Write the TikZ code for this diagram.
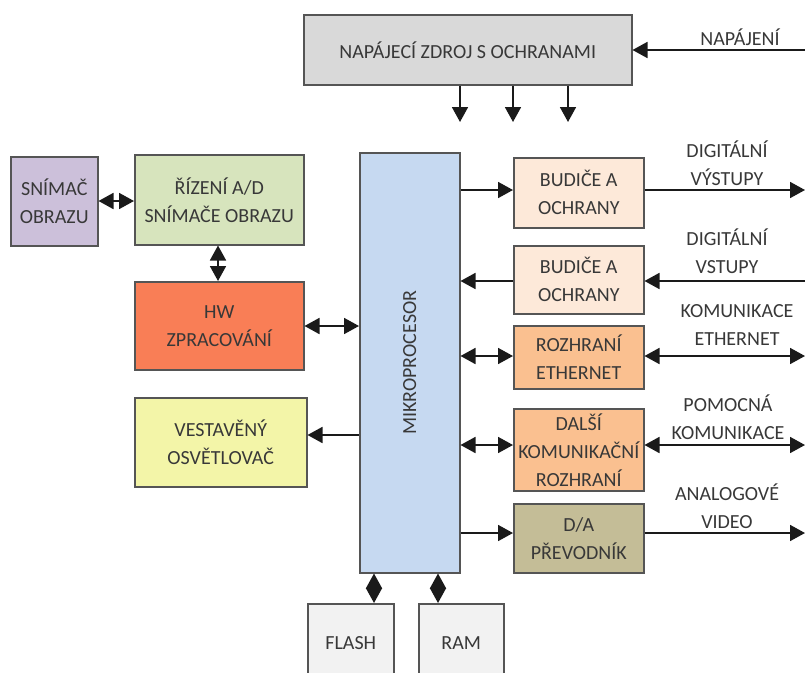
\documentclass[tikz,border=0pt]{standalone}
\usepackage{fontspec}
\setmainfont{Carlito}
\usetikzlibrary{arrows.meta}
\definecolor{bordc}{HTML}{555555}
\definecolor{txt}{HTML}{383838}
\definecolor{cpower}{HTML}{D9D9D9}
\definecolor{csnim}{HTML}{CCC0DA}
\definecolor{criz}{HTML}{D7E4BD}
\definecolor{chw}{HTML}{F97E56}
\definecolor{cvest}{HTML}{F3F5A8}
\definecolor{cmicro}{HTML}{C6D9F1}
\definecolor{cbud}{HTML}{FDE9D9}
\definecolor{ceth}{HTML}{FAC090}
\definecolor{cda}{HTML}{C4BD97}
\definecolor{cmem}{HTML}{F2F2F2}
\definecolor{linec}{HTML}{1A1A1A}
\begin{document}
\begin{tikzpicture}[x=1pt,y=-1pt,
  box/.style={draw=bordc, line width=1.5pt, text=txt, align=center, inner sep=0pt, anchor=north west, font=\fontsize{20}{28}\selectfont},
  lbl/.style={text=txt, align=center, inner sep=0pt, font=\fontsize{20}{28}\selectfont},
  arr/.style={draw=linec, line width=1.8pt, -{Triangle[length=15pt,width=16pt]}},
  darr/.style={draw=linec, line width=1.8pt, {Triangle[length=15pt,width=16pt]}-{Triangle[length=15pt,width=16pt]}},
  ln/.style={draw=linec, line width=1.8pt}]
\useasboundingbox (0,0) rectangle (805,672);
\clip (0,0) rectangle (805,672);
% boxes
\node[box, fill=cpower, minimum width=328pt, minimum height=70pt] (power) at (303,14) {NAPÁJECÍ ZDROJ S OCHRANAMI};
\node[box, fill=csnim, minimum width=87pt, minimum height=89pt] (snim) at (10,156) {SNÍMAČ\\OBRAZU};
\node[box, fill=criz, minimum width=169pt, minimum height=90pt] (riz) at (134,154) {ŘÍZENÍ A/D\\SNÍMAČE OBRAZU};
\node[box, fill=chw, minimum width=169pt, minimum height=88pt] (hw) at (134,281) {HW\\ZPRACOVÁNÍ};
\node[box, fill=cvest, minimum width=172pt, minimum height=89pt] (vest) at (134,397) {VESTAVĚNÝ\\OSVĚTLOVAČ};
\node[box, fill=cmicro, minimum width=100pt, minimum height=420pt] (micro) at (359,152) {};
\node[lbl, rotate=90] (mtext) at (micro.center) {MIKROPROCESOR};
\node[box, fill=cbud, minimum width=130pt, minimum height=70pt] (bud1) at (513,157) {BUDIČE A\\OCHRANY};
\node[box, fill=cbud, minimum width=130pt, minimum height=68pt] (bud2) at (513,245) {BUDIČE A\\OCHRANY};
\node[box, fill=ceth, minimum width=130pt, minimum height=63pt] (eth) at (513,325) {ROZHRANÍ\\ETHERNET};
\node[box, fill=ceth, minimum width=130pt, minimum height=82pt] (dal) at (513,408) {DALŠÍ\\KOMUNIKAČNÍ\\ROZHRANÍ};
\node[box, fill=cda, minimum width=130pt, minimum height=69pt] (da) at (513,503) {D/A\\PŘEVODNÍK};
\node[box, fill=cmem, minimum width=86pt, minimum height=78pt] (flash) at (307,603) {FLASH};
\node[box, fill=cmem, minimum width=85pt, minimum height=78pt] (ram) at (418,603) {RAM};
% outer labels
\node[lbl] (lnap) at (740,37) {NAPÁJENÍ};
\node[lbl] (ldo) at (727,163) {DIGITÁLNÍ\\VÝSTUPY};
\node[lbl] (ldi) at (727,251) {DIGITÁLNÍ\\VSTUPY};
\node[lbl] (leth) at (737,325) {KOMUNIKACE\\ETHERNET};
\node[lbl] (lpom) at (728,417) {POMOCNÁ\\KOMUNIKACE};
\node[lbl] (lav) at (727,506) {ANALOGOVÉ\\VIDEO};
% free ends
\coordinate (pin) at (805,50);
\coordinate (d1) at (460,122);
\coordinate (d2) at (513,122);
\coordinate (d3) at (568,122);
\coordinate (odo) at (805,190);
\coordinate (idi) at (805,281);
\coordinate (oeth) at (805,356);
\coordinate (opom) at (805,445);
\coordinate (oav) at (805,533);
% connectors
\draw[arr] (pin) -- (power.east |- pin);
\draw[arr] (power.south -| d1) -- (d1);
\draw[arr] (power.south -| d2) -- (d2);
\draw[arr] (power.south -| d3) -- (d3);
\draw[darr] (snim.east |- 0,201) -- (riz.west |- 0,201);
\draw[darr] (riz.south -| 218,0) -- (hw.north -| 218,0);
\draw[darr] (hw.east |- 0,326) -- (micro.west |- 0,326);
\draw[arr] (micro.west |- 0,435) -- (vest.east |- 0,435);
\draw[arr] (micro.east |- odo) -- (bud1.west |- odo);
\draw[arr] (bud1.east |- odo) -- (odo);
\draw[arr] (idi) -- (bud2.east |- idi);
\draw[arr] (bud2.west |- idi) -- (micro.east |- idi);
\draw[darr] (micro.east |- oeth) -- (eth.west |- oeth);
\draw[darr] (eth.east |- oeth) -- (oeth);
\draw[darr] (micro.east |- opom) -- (dal.west |- opom);
\draw[darr] (dal.east |- opom) -- (opom);
\draw[arr] (micro.east |- oav) -- (da.west |- oav);
\draw[arr] (da.east |- oav) -- (oav);
\draw[darr] (micro.south -| 374,0) -- (flash.north -| 374,0);
\draw[darr] (micro.south -| 438,0) -- (ram.north -| 438,0);
\end{tikzpicture}
\end{document}
